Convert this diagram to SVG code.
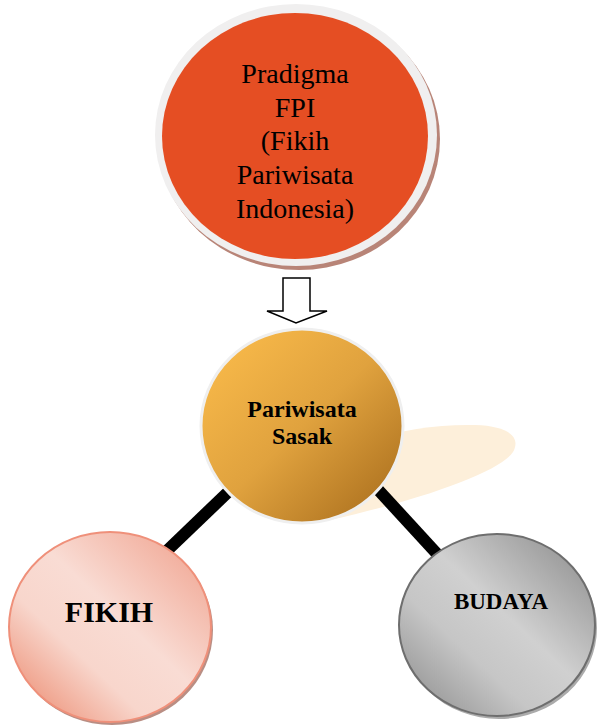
<svg xmlns="http://www.w3.org/2000/svg" width="597" height="728" viewBox="0 0 597 728">
<defs>
<style>
.t{font-family:"Liberation Serif","Times New Roman",serif;fill:#000;text-anchor:middle}
.b{font-weight:bold}
.conn{stroke:#000;stroke-width:12;stroke-linecap:butt;fill:none}
</style>
<linearGradient id="gMid" x1="0" y1="0" x2="1" y2="1">
<stop offset="0" stop-color="#FDBE4C"/>
<stop offset="0.5" stop-color="#E0A23E"/>
<stop offset="1" stop-color="#A4691A"/>
</linearGradient>
<linearGradient id="gFik" x1="1" y1="0" x2="0" y2="1">
<stop offset="0" stop-color="#EF9D88"/>
<stop offset="0.45" stop-color="#F9DCD4"/>
<stop offset="0.65" stop-color="#F8D6CC"/>
<stop offset="0.85" stop-color="#F0A590"/>
<stop offset="1" stop-color="#F4BBAC"/>
</linearGradient>
<linearGradient id="gBud" x1="1" y1="0" x2="0" y2="1">
<stop offset="0" stop-color="#878787"/>
<stop offset="0.45" stop-color="#D0D0D0"/>
<stop offset="0.65" stop-color="#C6C6C6"/>
<stop offset="0.85" stop-color="#A2A2A2"/>
<stop offset="1" stop-color="#C0C0C0"/>
</linearGradient>
</defs>
<rect width="597" height="728" fill="#fff"/>
<path id="sasak-shadow" d="M330 520 C420 500 500 472 513 452 C521 438 510 426 475 425 C440 424 400 430 370 440 Z" fill="#FDEFDA"/>
<g id="connectors">
<path id="arrow" d="M283 278 L310 278 L310 311 L327 311 L296 323 L267 311 L283 311 Z" fill="#fff" stroke="#000" stroke-width="1.5" stroke-linejoin="miter"/>
<path d="M250 471 L150 567" class="conn"/>
<path d="M360 470 L450 568" class="conn"/>
</g>
<g id="node-fpi">
<ellipse cx="299" cy="139" rx="141" ry="131" fill="#B88477"/>
<ellipse cx="296" cy="135" rx="141" ry="131" fill="#F0EFEF"/>
<ellipse cx="295" cy="136" rx="133" ry="123" fill="#E54E23"/>
<text class="t" font-size="28"><tspan x="295" y="83">Pradigma</tspan><tspan x="295" y="117">FPI</tspan><tspan x="295" y="150">(Fikih</tspan><tspan x="295" y="184">Pariwisata</tspan><tspan x="295" y="218">Indonesia)</tspan></text>
</g>
<g id="node-sasak">
<ellipse cx="302" cy="426" rx="101" ry="97" fill="url(#gMid)" stroke="#EFEFEF" stroke-width="3"/>
<text class="t b" font-size="24"><tspan x="302" y="417">Pariwisata</tspan><tspan x="302" y="444">Sasak</tspan></text>
</g>
<g id="node-fikih">
<ellipse cx="112" cy="630" rx="101" ry="95" fill="#B98E84"/>
<ellipse cx="110" cy="627" rx="101" ry="95" fill="url(#gFik)" stroke="#EF907A" stroke-width="2"/>
<text class="t b" font-size="30" x="109" y="622">FIKIH</text>
</g>
<g id="node-budaya">
<ellipse cx="499" cy="628" rx="98" ry="91" fill="#ABABAB"/>
<ellipse cx="497" cy="625" rx="98" ry="91" fill="url(#gBud)" stroke="#6E6E6E" stroke-width="2"/>
<text class="t b" font-size="23" x="501" y="609">BUDAYA</text>
</g>
</svg>
